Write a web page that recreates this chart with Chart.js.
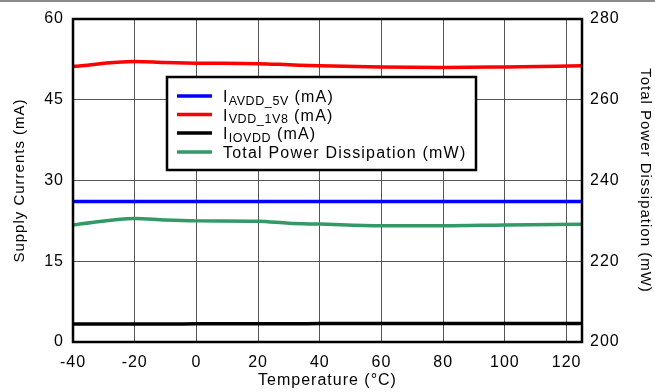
<!DOCTYPE html>
<html>
<head>
<meta charset="utf-8">
<script src="https://cdn.jsdelivr.net/npm/chart.js@4.4.1/dist/chart.umd.min.js"></script>
<style>
  html, body { margin: 0; padding: 0; background: #fff; }
  #wrap { position: relative; width: 655px; height: 392px; }
  #topband { position: absolute; left: 0; top: 0; width: 655px; height: 2px; background: #8a8a8a; }
  canvas { position: absolute; left: 0; top: 0; }
</style>
</head>
<body>
<div id="wrap">
  <canvas id="powerChart" width="655" height="392"></canvas>
  <div id="topband"></div>
</div>
<script>
const temps = [-40, -20, -10, 0, 20, 30, 40, 60, 80, 100, 125];
const iAvdd5v = [26.1, 26.1, 26.1, 26.1, 26.1, 26.1, 26.1, 26.1, 26.1, 26.1, 26.1];
const iVdd1v8 = [51.2, 52.1, 51.9, 51.8, 51.7, 51.5, 51.3, 51.1, 51.0, 51.1, 51.3];
const iIovdd = [3.35, 3.35, 3.35, 3.38, 3.4, 3.4, 3.42, 3.43, 3.45, 3.45, 3.45];
const totalPower = [229.0, 230.6, 230.2, 230.0, 229.9, 229.4, 229.2, 228.8, 228.8, 229.0, 229.15];

const xTicks = [-40, -20, 0, 20, 40, 60, 80, 100, 120];
const leftTicks = [0, 15, 30, 45, 60];
const rightTicks = [200, 220, 240, 260, 280];

// legend entries: main text, subscript, tail
const legendItems = [
  { main: "I", sub: "AVDD_5V", tail: " (mA)", color: "#0000ff" },
  { main: "I", sub: "VDD_1V8", tail: " (mA)", color: "#ff0000" },
  { main: "I", sub: "IOVDD", tail: " (mA)", color: "#000000" },
  { main: "Total Power Dissipation (mW)", sub: "", tail: "", color: "#339966" },
];

const FONT = "'Liberation Sans', Arial, sans-serif";

function pts(values) {
  return temps.map((t, i) => ({ x: t, y: values[i] }));
}

function lineSet(label, values, color, axis) {
  return {
    label,
    data: pts(values),
    borderColor: color,
    borderWidth: 3.5,
    pointRadius: 0,
    cubicInterpolationMode: "monotone",
    yAxisID: axis,
  };
}

// the original uses loosely spaced Helvetica-like text
// (canvas resize resets the context, so set it again before layout and draw)
const spacing = {
  id: "spacing",
  beforeLayout(chart) { chart.ctx.letterSpacing = "1px"; },
  beforeDraw(chart) { chart.ctx.letterSpacing = "1px"; },
};

const frameAndLegend = {
  id: "frameAndLegend",
  afterDraw(chart) {
    const { ctx, chartArea } = chart;
    ctx.save();
    ctx.strokeStyle = "#000";
    ctx.lineWidth = 2.5;
    ctx.strokeRect(chartArea.left, chartArea.top, chartArea.right - chartArea.left, chartArea.bottom - chartArea.top);

    // legend box
    const bx = 167, by = 77, bw = 309, bh = 93;
    ctx.fillStyle = "#fff";
    ctx.fillRect(bx, by, bw, bh);
    ctx.lineWidth = 2.5;
    ctx.strokeRect(bx, by, bw, bh);

    const rowY = [96, 114.5, 133, 152];
    legendItems.forEach((item, i) => {
      const y = rowY[i];
      ctx.strokeStyle = item.color;
      ctx.lineWidth = 3.5;
      ctx.beginPath();
      ctx.moveTo(177, y);
      ctx.lineTo(212, y);
      ctx.stroke();

      ctx.fillStyle = "#000";
      ctx.textBaseline = "alphabetic";
      let x = 223;
      const base = y + 6;
      ctx.letterSpacing = "1.2px";
      ctx.font = "16px " + FONT;
      ctx.fillText(item.main, x, base);
      x += ctx.measureText(item.main).width;
      if (item.sub) {
        ctx.letterSpacing = "0.6px";
        ctx.font = "12.5px " + FONT;
        ctx.fillText(item.sub, x, base + 2.5);
        x += ctx.measureText(item.sub).width;
      }
      if (item.tail) {
        ctx.letterSpacing = "1.2px";
        ctx.font = "16px " + FONT;
        ctx.fillText(item.tail, x, base);
      }
    });
    ctx.restore();
  },
};

let powerChart = new Chart(document.getElementById("powerChart").getContext("2d"), {
  type: "line",
  data: {
    datasets: [
      lineSet("IAVDD_5V (mA)", iAvdd5v, "#0000ff", "y"),
      lineSet("IVDD_1V8 (mA)", iVdd1v8, "#ff0000", "y"),
      lineSet("IIOVDD (mA)", iIovdd, "#000000", "y"),
      lineSet("Total Power Dissipation (mW)", totalPower, "#339966", "y2"),
    ],
  },
  options: {
    responsive: false,
    animation: false,
    layout: { padding: { top: 19, left: 0, right: 0, bottom: 0 } },
    plugins: {
      legend: { display: false },
      tooltip: { enabled: false },
    },
    scales: {
      x: {
        type: "linear",
        min: -40,
        max: 125,
        afterBuildTicks: (s) => { s.ticks = xTicks.map((v) => ({ value: v })); },
        afterFit: (s) => { s.height = 50; },
        ticks: { color: "#000", font: { size: 16, family: FONT }, padding: 11, maxRotation: 0 },
        grid: { color: "#555", lineWidth: 1, drawTicks: false },
        border: { display: false },
        title: {
          display: true,
          text: "Temperature (°C)",
          color: "#000",
          font: { size: 16, family: FONT },
          padding: { top: 0, bottom: 2 },
        },
      },
      y: {
        position: "left",
        min: 0,
        max: 60,
        afterBuildTicks: (s) => { s.ticks = leftTicks.map((v) => ({ value: v })); },
        afterFit: (s) => { s.width = 73; },
        ticks: { color: "#000", font: { size: 16, family: FONT }, padding: 9 },
        grid: { color: "#555", lineWidth: 1, drawTicks: false },
        border: { display: false },
        title: {
          display: true,
          text: "Supply Currents (mA)",
          color: "#000",
          font: { size: 15, family: FONT },
          padding: { top: 11, bottom: 0 },
        },
      },
      y2: {
        position: "right",
        min: 200,
        max: 280,
        afterBuildTicks: (s) => { s.ticks = rightTicks.map((v) => ({ value: v })); },
        afterFit: (s) => { s.width = 73; },
        ticks: { color: "#000", font: { size: 16, family: FONT }, padding: 8 },
        grid: { display: false, drawTicks: false },
        border: { display: false },
        title: {
          display: true,
          text: "Total Power Dissipation (mW)",
          color: "#000",
          font: { size: 15, family: FONT },
          padding: { top: 1, bottom: 0 },
        },
      },
    },
  },
  plugins: [spacing, frameAndLegend],
});
</script>
</body>
</html>
